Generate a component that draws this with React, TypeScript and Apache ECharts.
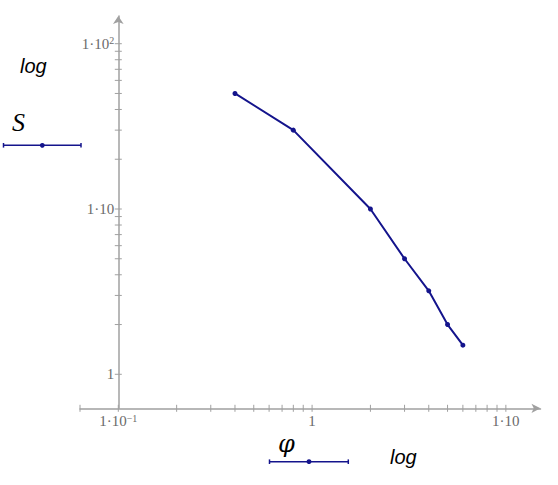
import React, { useEffect, useRef } from 'react';
import * as echarts from 'echarts';

// data
const phiValues = [0.4, 0.8, 2, 3, 4, 5, 6];
const sValues = [50, 30, 10, 5, 3.2, 2, 1.5];

// axis ticks
const xMajorTicks = [0.1, 1, 10];
const xMinorTicks = [0.2, 0.3, 0.4, 0.5, 0.6, 0.7, 0.8, 0.9, 2, 3, 4, 5, 6, 7, 8, 9];
const yMajorTicks = [1, 10, 100];
const yMinorTicks = [2, 3, 4, 5, 6, 7, 8, 9, 20, 30, 40, 50, 60, 70, 80, 90];
const xTickLabels: Record<string, string> = { '-1': '1·10{sup|−1}', '0': '1', '1': '1·10' };
const yTickLabels: Record<string, string> = { '0': '1', '1': '1·10', '2': '1·10{sup|2}' };

const X_MIN = 0.06343;
const X_MAX = 15.09;
const Y_MIN = 0.6227;
const Y_MAX = 147.1;
const Y_AXIS_AT = 0.1;

const AXIS_COLOR = '#a0a0a0';
const LABEL_COLOR = '#6a6a6a';
const LINE_COLOR = '#14148c';

const GRID_LEFT = 80;

function fmt(map: Record<string, string>) {
  return (v: number) => {
    const e = Math.round(Math.log10(v));
    if (Math.abs(Math.log10(v) - e) > 1e-6) return '';
    return map[String(e)] ?? '';
  };
}

const labelRich = {
  sup: { fontFamily: 'Liberation Serif', fontSize: 10, color: LABEL_COLOR, verticalAlign: 'top', lineHeight: 16 },
};

export default function App() {
  const ref = useRef<HTMLDivElement>(null);
  useEffect(() => {
    if (!ref.current) return;
    const chart = echarts.init(ref.current, undefined, { renderer: 'svg' });
    const tickRender = (horizontal: boolean) => (params: any, api: any) => {
      const p = api.coord([api.value(0), api.value(1)]);
      return horizontal
        ? { type: 'line', shape: { x1: p[0] - 3.5, y1: p[1], x2: p[0] + 3.5, y2: p[1] }, style: { stroke: AXIS_COLOR, lineWidth: 1 } }
        : { type: 'line', shape: { x1: p[0], y1: p[1] - 3.5, x2: p[0], y2: p[1] + 3.5 }, style: { stroke: AXIS_COLOR, lineWidth: 1 } };
    };
    const option: any = {
      animation: false,
      grid: { left: GRID_LEFT, top: 16, width: 460.5, height: 392.3, containLabel: false, outerBoundsMode: 'none' },
      xAxis: {
        type: 'log', logBase: 10, min: X_MIN, max: X_MAX,
        axisLine: { show: true, symbol: ['none', 'arrow'], symbolSize: [7, 9], lineStyle: { color: AXIS_COLOR, width: 1.5 } },
        axisTick: { show: false },
        splitLine: { show: false },
        axisLabel: {
          formatter: fmt(xTickLabels), showMinLabel: false, showMaxLabel: false,
          fontFamily: 'Liberation Serif', fontSize: 15, color: LABEL_COLOR, margin: 5, lineHeight: 16, rich: labelRich,
        },
      },
      yAxis: {
        type: 'log', logBase: 10, min: Y_MIN, max: Y_MAX, offset: -38.3,
        axisLine: { show: true, symbol: ['none', 'arrow'], symbolSize: [8, 8], lineStyle: { color: AXIS_COLOR, width: 1.5 } },
        axisTick: { show: false },
        splitLine: { show: false },
        axisLabel: {
          formatter: fmt(yTickLabels), showMinLabel: false, showMaxLabel: false,
          fontFamily: 'Liberation Serif', fontSize: 15, color: LABEL_COLOR, margin: 4, lineHeight: 16, rich: labelRich,
        },
      },
      series: [
        {
          type: 'custom', coordinateSystem: 'cartesian2d', clip: false, silent: true, z: 3,
          data: [...xMajorTicks, ...xMinorTicks, X_MIN].map((v) => [v, Y_MIN]),
          renderItem: tickRender(false),
        },
        {
          type: 'custom', coordinateSystem: 'cartesian2d', clip: false, silent: true, z: 3,
          data: [...yMajorTicks, ...yMinorTicks].map((v) => [Y_AXIS_AT, v]),
          renderItem: tickRender(true),
        },
        {
          type: 'line', z: 5,
          data: phiValues.map((x, i) => [x, sValues[i]]),
          symbol: 'circle', symbolSize: 5, showSymbol: true,
          lineStyle: { color: LINE_COLOR, width: 2 },
          itemStyle: { color: LINE_COLOR },
        },
      ],
      graphic: [
        { type: 'text', x: 20, y: 66, style: { text: 'log', fontFamily: 'Liberation Sans', fontStyle: 'italic', fontSize: 20, fill: '#000', verticalAlign: 'middle', align: 'left' } },
        { type: 'text', x: 12, y: 122, style: { text: 'S', fontFamily: 'Liberation Serif', fontStyle: 'italic', fontSize: 26, fill: '#000', verticalAlign: 'middle', align: 'left' } },
        { type: 'line', shape: { x1: 3.5, y1: 145.3, x2: 81, y2: 145.3 }, style: { stroke: LINE_COLOR, lineWidth: 1.5 } },
        { type: 'line', shape: { x1: 3.5, y1: 143, x2: 3.5, y2: 147.6 }, style: { stroke: LINE_COLOR, lineWidth: 1.5 } },
        { type: 'line', shape: { x1: 81, y1: 143, x2: 81, y2: 147.6 }, style: { stroke: LINE_COLOR, lineWidth: 1.5 } },
        { type: 'circle', shape: { cx: 42.3, cy: 145.3, r: 2.4 }, style: { fill: LINE_COLOR } },
        { type: 'text', x: 278, y: 444, style: { text: 'φ', fontFamily: 'DejaVu Serif', fontStyle: 'italic', fontSize: 24, fill: '#000', verticalAlign: 'middle', align: 'left' } },
        { type: 'line', shape: { x1: 269.5, y1: 461.7, x2: 348.3, y2: 461.7 }, style: { stroke: LINE_COLOR, lineWidth: 1.5 } },
        { type: 'line', shape: { x1: 269.5, y1: 459.4, x2: 269.5, y2: 464 }, style: { stroke: LINE_COLOR, lineWidth: 1.5 } },
        { type: 'line', shape: { x1: 348.3, y1: 459.4, x2: 348.3, y2: 464 }, style: { stroke: LINE_COLOR, lineWidth: 1.5 } },
        { type: 'circle', shape: { cx: 309, cy: 461.7, r: 2.4 }, style: { fill: LINE_COLOR } },
        { type: 'text', x: 390, y: 457, style: { text: 'log', fontFamily: 'Liberation Sans', fontStyle: 'italic', fontSize: 20, fill: '#000', verticalAlign: 'middle', align: 'left' } },
      ],
    };
    chart.setOption(option);
    const px = chart.convertToPixel({ xAxisIndex: 0 }, Y_AXIS_AT) as number;
    if (typeof px === 'number' && isFinite(px)) {
      chart.setOption({ yAxis: { offset: -(px - GRID_LEFT) } });
    }
    return () => chart.dispose();
  }, []);
  return <div ref={ref} style={{ width: 558, height: 485, position: 'absolute', left: 0, top: 0 }} />;
}
